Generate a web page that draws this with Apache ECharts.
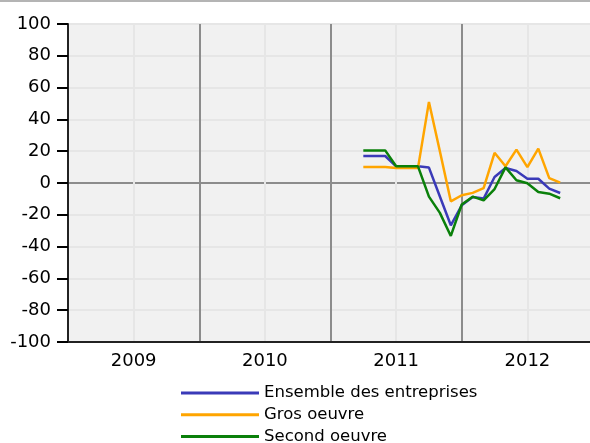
<!DOCTYPE html>
<html>
<head>
<meta charset="utf-8">
<script src="https://cdn.jsdelivr.net/npm/echarts@6/dist/echarts.min.js"></script>
<style>
html,body{margin:0;padding:0;background:#fff;}
#chart{width:590px;height:443px;}
</style>
</head>
<body>
<div id="chart"></div>
<script>
// Data
var months = ['2011-04','2011-05','2011-06','2011-07','2011-08','2011-09','2011-10','2011-11','2011-12',
              '2012-01','2012-02','2012-03','2012-04','2012-05','2012-06','2012-07','2012-08','2012-09','2012-10'];
var ensemble = [17, 17, 17, 10.5, 10.5, 10.5, 9.7, -8.5, -26.6, -14, -8.8, -9.8, 3.8, 9.4, 7.5, 2.7, 2.7, -3.5, -6.3];
var grosOeuvre = [10, 10, 10, 9.5, 9.5, 9.5, 51, 20, -11.5, -7.7, -6.2, -3.2, 19, 10.5, 21, 10, 21.6, 3.1, 0.2];
var secondOeuvre = [20.5, 20.5, 20.5, 10.5, 10.5, 10.5, -8.6, -18.8, -33.3, -13.5, -8.6, -10.9, -3.8, 9.8, 1.7, -0.2, -5.7, -6.7, -9.6];
var yearLabels = ['2009','2010','2011','2012'];
var seriesNames = ['Ensemble des entreprises','Gros oeuvre','Second oeuvre'];
var startYear = 2009;

function toIndex(s){
  var p = s.split('-');
  return (parseInt(p[0],10) - startYear) * 12 + (parseInt(p[1],10) - 1);
}
function pairs(vals){
  return vals.map(function(v,i){ return [toIndex(months[i]), v]; });
}

var chart = echarts.init(document.getElementById('chart'));
var light = '#e6e6e6', dark = '#8c8c8c';
var ySplitColors = [light,light,light,light,light,dark,light,light,light,light,light];
var xSplitColors = [dark,light,dark,light,dark,light,dark,light,'rgba(0,0,0,0)'];
var font = 'DejaVu Sans';

chart.setOption({
  animation: false,
  textStyle: {fontFamily: font},
  graphic: [{type:'rect', shape:{x:0,y:0,width:590,height:2}, style:{fill:'#b4b4b4'}, silent:true}],
  grid: {left:68, top:24, width:525, bottom:101, outerBoundsMode:'none', containLabel:false, show:true, backgroundColor:'#f1f1f1', borderColor:'#222', borderWidth:2},
  legend: {
    orient:'vertical', left:181, top:384, height:80, padding:0, itemWidth:78, itemHeight:3, icon:'rect', itemGap:3.7,
    textStyle:{fontFamily:font, fontSize:16.5, color:'#000', lineHeight:18},
    data: seriesNames
  },
  xAxis: {
    type:'value', min:0, max:48, interval:6,
    axisLine:{show:true, onZero:false, lineStyle:{color:'#222', width:2}},
    axisTick:{show:false},
    axisLabel:{
      fontFamily:font, fontSize:18, color:'#000', margin:10, showMinLabel:true, showMaxLabel:true,
      formatter:function(v){ return (v % 12 === 6) ? yearLabels[(v-6)/12] : ''; }
    },
    splitLine:{show:true, lineStyle:{color:xSplitColors, width:2}}
  },
  yAxis: {
    type:'value', min:-100, max:100, interval:20,
    axisLine:{show:true, onZero:false, lineStyle:{color:'#222', width:2}},
    axisTick:{show:true, inside:false, length:11, lineStyle:{color:'#000', width:2}},
    axisLabel:{fontFamily:font, fontSize:18, color:'#000', margin:17},
    splitLine:{show:true, lineStyle:{color:ySplitColors, width:2}}
  },
  series: [
    {name:seriesNames[0], type:'line', data:pairs(ensemble), showSymbol:false, symbol:'none', lineStyle:{width:2.5, color:'#3a3ab8'}, itemStyle:{color:'#3a3ab8'}},
    {name:seriesNames[1], type:'line', data:pairs(grosOeuvre), showSymbol:false, symbol:'none', lineStyle:{width:2.5, color:'#ffa500'}, itemStyle:{color:'#ffa500'}},
    {name:seriesNames[2], type:'line', data:pairs(secondOeuvre), showSymbol:false, symbol:'none', lineStyle:{width:2.5, color:'#0a800a'}, itemStyle:{color:'#0a800a'}}
  ]
});
</script>
</body>
</html>
